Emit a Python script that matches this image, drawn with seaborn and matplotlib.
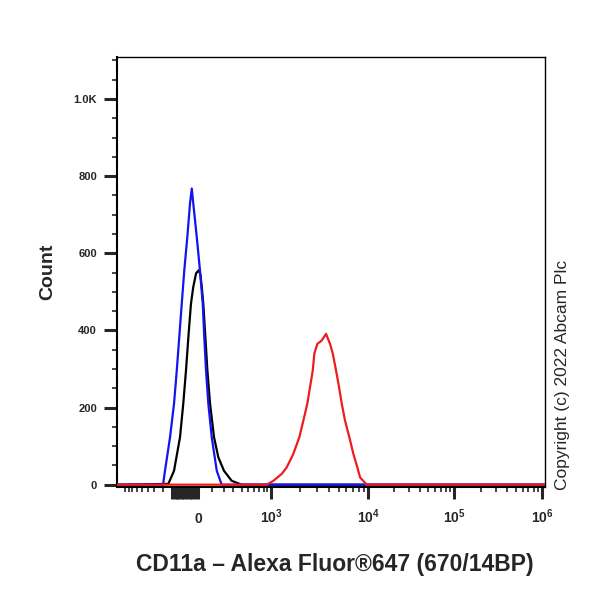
import numpy as np
import pandas as pd
import matplotlib
matplotlib.use("Agg")
import matplotlib.pyplot as plt
import seaborn as sns
from matplotlib.ticker import FixedLocator, FixedFormatter

sns.set_style("ticks")
plt.rcParams["font.family"] = ["Liberation Sans", "DejaVu Sans"]
plt.rcParams["font.weight"] = "bold"
plt.rcParams["mathtext.fontset"] = "custom"
plt.rcParams["mathtext.bf"] = "Liberation Sans:bold"
plt.rcParams["mathtext.rm"] = "Liberation Sans:bold"

# data (intensity, count)
x_min, x_max = -1265, 1.08e6

black_x = [x_min, -240, -186, -135, -109, -88, -70, -51, -34, -14, 5, 17, 27, 38, 53, 68, 88, 119, 154, 204, 281, 402, x_max]
black_y = [0, 2, 36, 123, 210, 296, 383, 469, 513, 548, 556, 545, 513, 469, 383, 296, 210, 123, 71, 36, 10, 0, 0]

blue_x = [x_min, -295, -274, -223, -186, -162, -141, -121, -101, -78, -58, -45, -34, -9, 14, 34, 45, 58, 75, 101, 141, 183, x_max]
blue_y = [0, 0, 36, 123, 210, 296, 383, 469, 556, 642, 729, 768, 729, 642, 556, 469, 383, 296, 210, 123, 36, 0, 0]

red_x = [x_min, 880, 1057, 1295, 1460, 1709, 1971, 2168, 2383, 2541, 2710, 2814, 3020, 3350, 3711,
         4080, 4349, 4702, 5047, 5379, 5814, 6435, 7072, 7771, 8282, 9699, x_max]
red_y = [0, 0, 10, 28, 45, 80, 123, 166, 210, 253, 296, 340, 365, 374, 391,
         365, 340, 296, 253, 210, 166, 123, 80, 45, 19, 0, 0]

y_ticks = [0, 200, 400, 600, 800, 1000]
y_labels = ["0", "200", "400", "600", "800", "1.0K"]

# biexponential-like display axis
COF = 250
anchor_vals = np.array([-1e5, 0, 1e3, 1e4, 1e5, 1e6, 1e7])
anchor_pos = np.array([-233.0, 0, 73, 170, 256, 344, 432])
anchor_u = np.arcsinh(anchor_vals / COF)


def fwd(x):
    return np.interp(np.arcsinh(np.asarray(x, dtype=float) / COF), anchor_u, anchor_pos)


def inv(p):
    return COF * np.sinh(np.interp(np.asarray(p, dtype=float), anchor_pos, anchor_u))


fig = plt.figure(figsize=(6, 6), dpi=100)
ax = fig.add_axes([117 / 600, 1 - 487 / 600, 428 / 600, 430 / 600])

sns.lineplot(x=black_x, y=black_y, color="black", lw=1.6, ax=ax, zorder=2)
sns.lineplot(x=blue_x, y=blue_y, color="#1414f0", lw=1.6, ax=ax, zorder=3)
sns.lineplot(x=red_x, y=red_y, color="#ee1c1c", lw=1.6, ax=ax, zorder=4)

ax.set_xscale("function", functions=(fwd, inv))
ax.set_xlim(x_min, x_max)
ax.set_ylim(-6, 1109)

# x ticks
cluster = list(range(-200, 0, 20))
decades = [0, 1e3, 1e4, 1e5, 1e6]
dec_labels = ["0", r"$\mathbf{10^{3}}$", r"$\mathbf{10^{4}}$", r"$\mathbf{10^{5}}$", r"$\mathbf{10^{6}}$"]
ax.xaxis.set_major_locator(FixedLocator(cluster + decades))
ax.xaxis.set_major_formatter(FixedFormatter([""] * len(cluster) + dec_labels))
minor_x = list(range(-1000, -200, 100)) + list(range(100, 1000, 100))
for d in [1e3, 1e4, 1e5]:
    minor_x += [k * d for k in range(2, 10)]
ax.xaxis.set_minor_locator(FixedLocator(minor_x))

ax.yaxis.set_major_locator(FixedLocator(y_ticks))
ax.yaxis.set_major_formatter(FixedFormatter(y_labels))
ax.yaxis.set_minor_locator(FixedLocator([v for v in range(50, 1101, 50) if v % 200]))

ax.tick_params(axis="x", which="major", length=8.6, width=2.2, pad=17, labelsize=10, direction="out")
ax.tick_params(axis="x", which="minor", length=3.8, width=1.2, direction="out")
ax.tick_params(axis="y", which="major", length=9.4, width=2.2, pad=5, labelsize=8, direction="out")
ax.tick_params(axis="y", which="minor", length=3.8, width=1.2, direction="out")

for sp in ax.spines.values():
    sp.set_visible(True)
    sp.set_color("black")
    sp.set_linewidth(1.0)
ax.spines["left"].set_linewidth(1.5)
ax.spines["bottom"].set_linewidth(1.5)

ax.set_xlabel("CD11a \u2013 Alexa Fluor\u00ae647 (670/14BP)", fontsize=16.5, fontweight="bold", va="center")
ax.xaxis.set_label_coords(0.509, -0.181)
ax.set_ylabel("Count", fontsize=14, fontweight="bold", va="center")
ax.yaxis.set_label_coords(-0.161, 0.5)

fig.canvas.draw()
for lbl in ax.get_xticklabels():
    lbl.set_va("baseline")

fig.text(562 / 600, 1 - 490 / 600, "Copyright (c) 2022 Abcam Plc", rotation=90,
         ha="center", va="bottom", fontsize=12.5, fontweight="normal")

fig.savefig("out.png", dpi=100)
